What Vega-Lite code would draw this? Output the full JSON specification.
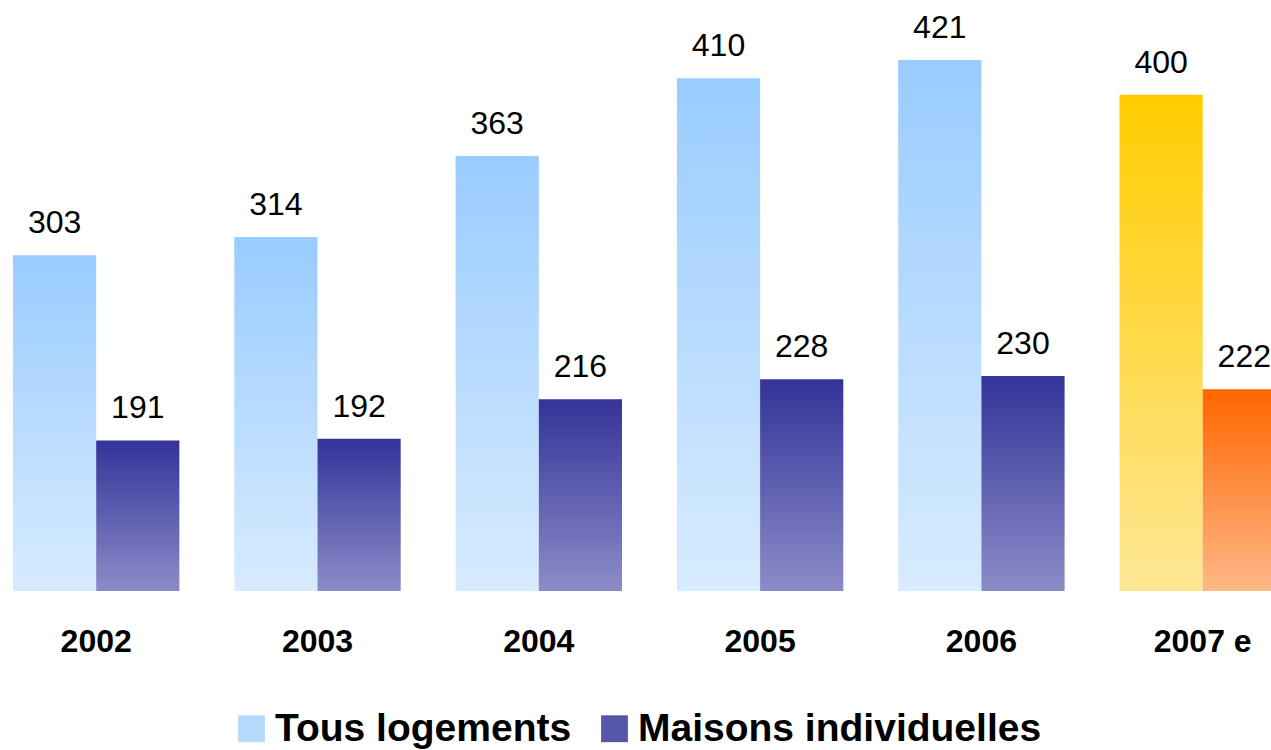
{
  "$schema": "https://vega.github.io/schema/vega-lite/v6.json",
  "width": 1271,
  "height": 591,
  "autosize": {"type": "none"},
  "padding": {"left": 0, "top": 0, "right": 0, "bottom": 159},
  "background": "white",
  "config": {"view": {"stroke": null}, "font": "Liberation Sans"},
  "data": {
    "values": [
      {"year": "2002", "series": "Tous logements", "cat": "Tous logements", "value": 303},
      {"year": "2002", "series": "Maisons individuelles", "cat": "Maisons individuelles", "value": 191},
      {"year": "2003", "series": "Tous logements", "cat": "Tous logements", "value": 314},
      {"year": "2003", "series": "Maisons individuelles", "cat": "Maisons individuelles", "value": 192},
      {"year": "2004", "series": "Tous logements", "cat": "Tous logements", "value": 363},
      {"year": "2004", "series": "Maisons individuelles", "cat": "Maisons individuelles", "value": 216},
      {"year": "2005", "series": "Tous logements", "cat": "Tous logements", "value": 410},
      {"year": "2005", "series": "Maisons individuelles", "cat": "Maisons individuelles", "value": 228},
      {"year": "2006", "series": "Tous logements", "cat": "Tous logements", "value": 421},
      {"year": "2006", "series": "Maisons individuelles", "cat": "Maisons individuelles", "value": 230},
      {"year": "2007 e", "series": "Tous logements", "cat": "Tous logements 2007", "value": 400},
      {"year": "2007 e", "series": "Maisons individuelles", "cat": "Maisons individuelles 2007", "value": 222}
    ]
  },
  "encoding": {
    "x": {
      "field": "year", "type": "nominal", "sort": null,
      "scale": {"range": [0, 1298.9], "paddingInner": 0.2481, "paddingOuter": 0.0587},
      "axis": {"title": null, "domain": false, "ticks": false, "tickSize": 0, "labelAngle": 0,
               "labelFontSize": 32, "labelFontWeight": "bold", "labelColor": "#000000",
               "labelFont": "Liberation Sans", "labelPadding": 35, "grid": false}
    },
    "xOffset": {
      "field": "series", "type": "nominal",
      "scale": {"domain": ["Tous logements", "Maisons individuelles"], "paddingInner": 0, "paddingOuter": 0}
    },
    "y": {
      "field": "value", "type": "quantitative",
      "scale": {"domain": [100, 457.3], "zero": false, "nice": false},
      "axis": null
    }
  },
  "layer": [
    {
      "mark": {"type": "bar", "clip": true, "strokeWidth": 0},
      "encoding": {
        "y2": {"datum": 100},
        "fill": {
          "field": "series", "type": "nominal",
          "scale": {"domain": ["Tous logements", "Maisons individuelles"], "range": ["#B5D9FF", "#5757A9"]},
          "condition": [
            {"test": "datum.cat === 'Tous logements'", "value": {"gradient": "linear", "x1": 0, "y1": 0, "x2": 0, "y2": 1, "stops": [{"offset": 0, "color": "#99CCFF"}, {"offset": 1, "color": "#D8EBFF"}]}},
            {"test": "datum.cat === 'Maisons individuelles'", "value": {"gradient": "linear", "x1": 0, "y1": 0, "x2": 0, "y2": 1, "stops": [{"offset": 0, "color": "#333399"}, {"offset": 1, "color": "#8C8CC8"}]}},
            {"test": "datum.cat === 'Tous logements 2007'", "value": {"gradient": "linear", "x1": 0, "y1": 0, "x2": 0, "y2": 1, "stops": [{"offset": 0, "color": "#FFCC00"}, {"offset": 1, "color": "#FEE794"}]}},
            {"test": "datum.cat === 'Maisons individuelles 2007'", "value": {"gradient": "linear", "x1": 0, "y1": 0, "x2": 0, "y2": 1, "stops": [{"offset": 0, "color": "#FF6600"}, {"offset": 1, "color": "#FFB888"}]}}
          ],
          "legend": {
            "orient": "none", "legendX": 232, "legendY": 709,
            "direction": "horizontal", "title": null,
            "symbolType": "square", "symbolSize": 720, "symbolStrokeWidth": 0, "symbolOpacity": 1,
            "labelFontSize": 39, "labelFontWeight": "bold", "labelFont": "Liberation Sans",
            "labelColor": "#000000", "labelOffset": 4, "columnPadding": 23, "labelLimit": 600
          }
        }
      }
    },
    {
      "mark": {"type": "text", "baseline": "alphabetic", "dy": -22, "fontSize": 32, "font": "Liberation Sans", "color": "#000000"},
      "encoding": {"text": {"field": "value", "type": "quantitative"}}
    }
  ]
}
